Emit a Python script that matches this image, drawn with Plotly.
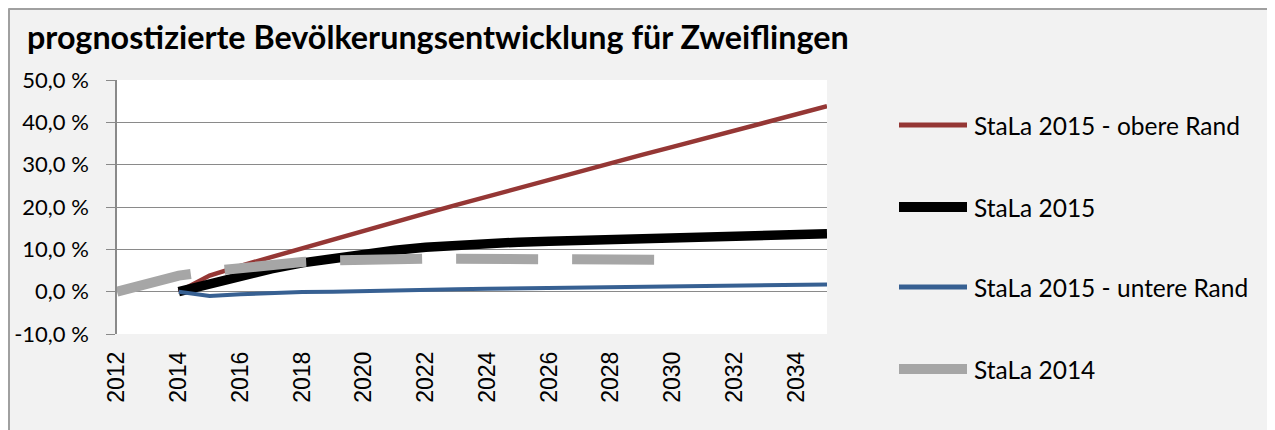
import plotly.graph_objects as go

# ---------------- data ----------------
years_2015 = list(range(2014, 2036))
obere_rand = [0.0, 3.8, 6.1, 8.2, 10.3, 12.4, 14.4, 16.5, 18.5, 20.5, 22.5,
              24.5, 26.5, 28.4, 30.4, 32.3, 34.2, 36.1, 38.1, 40.0, 41.9, 43.8]
stala_2015 = [0.0, 1.9, 3.8, 5.4, 6.8, 7.9, 8.9, 9.8, 10.5, 11.0, 11.4,
              11.7, 11.9, 12.1, 12.3, 12.5, 12.7, 12.9, 13.1, 13.3, 13.5, 13.7]
untere_rand = [0.0, -1.0, -0.6, -0.3, -0.1, 0.0, 0.2, 0.3, 0.4, 0.6, 0.7,
               0.8, 0.9, 1.0, 1.1, 1.2, 1.3, 1.4, 1.5, 1.6, 1.6, 1.7]
years_2014 = list(range(2012, 2031))
stala_2014 = [0.0, 1.9, 3.8, 4.8, 5.7, 6.4, 7.0, 7.4, 7.7, 7.8, 7.8,
              7.8, 7.7, 7.7, 7.6, 7.6, 7.6, 7.5, 7.5]

series_names = ["StaLa 2015 - obere Rand", "StaLa 2015",
                "StaLa 2015 - untere Rand", "StaLa 2014"]
y_ticks = [-10, 0, 10, 20, 30, 40, 50]
y_ticktext = ["-10,0 %", "0,0 %", "10,0 %", "20,0 %", "30,0 %", "40,0 %", "50,0 %"]
x_ticks = list(range(2012, 2035, 2))

title_text = "prognostizierte Bevölkerungsentwicklung für Zweiflingen"

# ---------------- styling ----------------
W, H = 1275, 430
OX, OY = 8, 8          # page body margin of the html page
colors = ["#953735", "#000000", "#376092", "#a6a6a6"]
widths = [4.5, 9.5, 4, 10]
leg_widths = [5, 10, 5, 10]
grid_col = "#8a8a8a"
calibri_like = "Lato"

def px(x):
    return (x - OX) / W

def py(y):
    return 1 - (y - OY) / H

x_dom = [px(117), px(827)]
y_dom = [py(334), py(80)]
zero_pos = y_dom[0] + (y_dom[1] - y_dom[0]) * (0 - (-10)) / 60

fig = go.Figure()

data = [(years_2015, obere_rand), (years_2015, stala_2015),
        (years_2015, untere_rand), (years_2014, stala_2014)]
for i, (xs, ys) in enumerate(data):
    line = dict(color=colors[i], width=widths[i])
    if i == 3:
        line["dash"] = "76px,34px,82px,34px,82px,34px,82px,34px,82px,34px,82px,34px"
    fig.add_trace(go.Scatter(x=xs, y=ys, mode="lines", name=series_names[i],
                             line=line, showlegend=False, hoverinfo="skip"))

# ---------------- manual legend ----------------
leg_y = [125, 207, 287, 369]
shapes = []
annotations = []
for i in range(4):
    shapes.append(dict(type="line", xref="paper", yref="paper",
                       x0=px(899), x1=px(967), y0=py(leg_y[i]), y1=py(leg_y[i]),
                       line=dict(color=colors[i], width=leg_widths[i])))
    annotations.append(dict(text=series_names[i], xref="paper", yref="paper",
                            x=px(972), y=py(leg_y[i]), xanchor="left", yanchor="middle",
                            showarrow=False,
                            font=dict(family=calibri_like, size=24.5, color="#000000")))

# chart-area border (left and top)
shapes.append(dict(type="line", xref="paper", yref="paper", x0=px(9), x1=px(9),
                   y0=-0.01, y1=py(8.5), line=dict(color="#a0a0a0", width=2)))
shapes.append(dict(type="line", xref="paper", yref="paper", x0=px(8.5), x1=1.01,
                   y0=py(9), y1=py(9), line=dict(color="#a0a0a0", width=2)))

fig.update_layout(
    template="none",
    width=W, height=H,
    autosize=False,
    margin=dict(l=0, r=0, t=0, b=0, pad=0, autoexpand=False),
    paper_bgcolor="#f2f2f2",
    plot_bgcolor="#ffffff",
    font=dict(family=calibri_like, color="#000000"),
    showlegend=False,
    title=dict(text="<b>" + title_text + "</b>", x=px(27), xanchor="left",
               y=py(38), yanchor="middle", xref="paper", yref="paper",
               automargin=False,
               font=dict(family=calibri_like, size=32.3, color="#000000")),
    xaxis=dict(domain=x_dom, range=[2012, 2035], tickmode="array",
               tickvals=x_ticks, ticktext=[str(v) for v in x_ticks],
               tickangle=-90, showgrid=False, zeroline=False, showline=False,
               ticks="", ticklabelstandoff=12, automargin=False,
               tickfont=dict(family="Liberation Sans", size=23, color="#000000")),
    xaxis2=dict(domain=x_dom, range=[2012, 2035], overlaying="x", anchor="free",
                position=zero_pos, side="bottom", tickmode="linear", tick0=2012,
                dtick=1, ticks="outside", ticklen=8, tickwidth=1.5,
                tickcolor=grid_col, showticklabels=False, showgrid=False,
                automargin=False,
                zeroline=False, showline=True, linecolor=grid_col, linewidth=1.5),
    yaxis=dict(domain=y_dom, range=[-10, 50], tickmode="array",
               tickvals=y_ticks, ticktext=y_ticktext, showgrid=True,
               gridcolor=grid_col, gridwidth=1.2, zeroline=False, showline=True,
               linecolor=grid_col, linewidth=1.5, ticks="outside", ticklen=9,
               tickwidth=1.2, tickcolor=grid_col, ticklabelstandoff=13,
               automargin=False,
               tickfont=dict(family=calibri_like, size=22, color="#000000")),
    shapes=shapes,
    annotations=annotations,
)

fig.write_html("out.html")
